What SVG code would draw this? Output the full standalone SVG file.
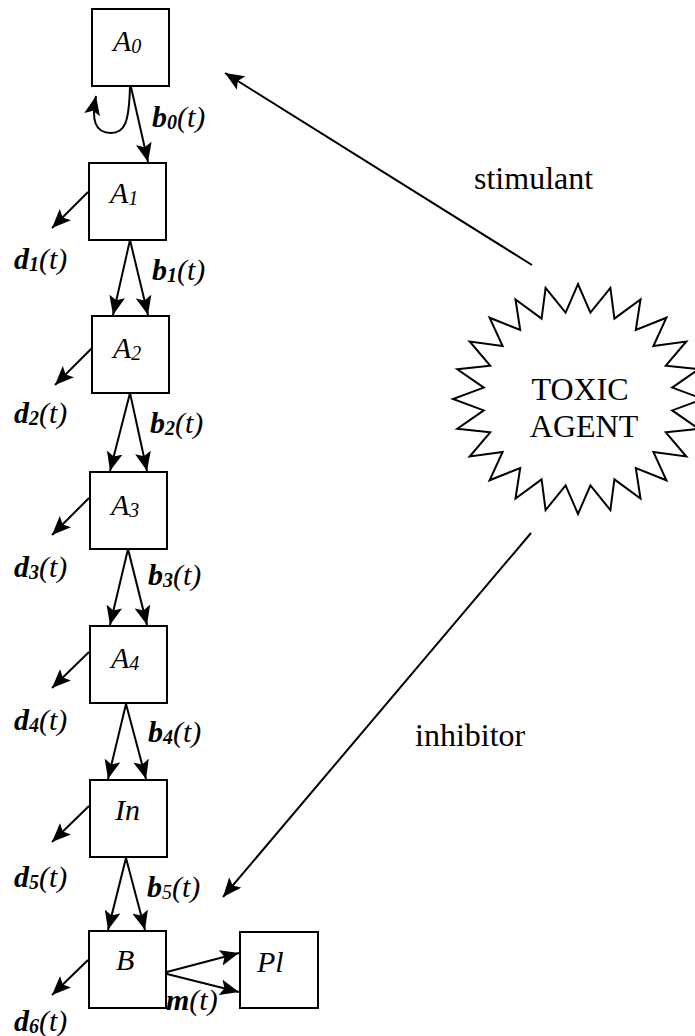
<svg xmlns="http://www.w3.org/2000/svg" width="695" height="1036" viewBox="0 0 695 1036">
<style>
.box{fill:#fff;stroke:#000;stroke-width:2}
.ln{fill:none;stroke:#000;stroke-width:2;marker-end:url(#ah)}
.t{font-family:"Liberation Serif","Times New Roman",serif;fill:#000}
.nl{font-size:30px;font-style:italic}
.sub{font-size:20px}
.lb{font-size:30px;font-style:italic}
.bi{font-weight:bold}
.big{font-size:32px}
</style>
<defs>
<marker id="ah" markerWidth="19" markerHeight="16" refX="19" refY="8" orient="auto" markerUnits="userSpaceOnUse" viewBox="0 0 19 16">
<path d="M0,0 L19,8 L0,16 L4,8 Z" fill="#000"/>
</marker>
</defs>
<rect width="695" height="1036" fill="#fff"/>

<g id="connectors">
<path class="ln" d="M130,87 C129,122 125,133 111,133 C95,133 91,120 96,96"/>
<line class="ln" x1="131" y1="87" x2="148" y2="162"/>
<line class="ln" x1="88" y1="192" x2="52" y2="228"/>
<line class="ln" x1="130" y1="240" x2="113" y2="315"/>
<line class="ln" x1="130" y1="240" x2="148" y2="315"/>
<line class="ln" x1="92" y1="348" x2="55" y2="385"/>
<line class="ln" x1="130" y1="393" x2="110" y2="471"/>
<line class="ln" x1="130" y1="393" x2="147" y2="471"/>
<line class="ln" x1="89" y1="498" x2="52" y2="535"/>
<line class="ln" x1="128" y1="549" x2="110" y2="625"/>
<line class="ln" x1="128" y1="549" x2="147" y2="625"/>
<line class="ln" x1="89" y1="652" x2="52" y2="688"/>
<line class="ln" x1="126" y1="704" x2="108" y2="779"/>
<line class="ln" x1="126" y1="704" x2="146" y2="779"/>
<line class="ln" x1="89" y1="806" x2="52" y2="842"/>
<line class="ln" x1="126" y1="858" x2="108" y2="930"/>
<line class="ln" x1="126" y1="858" x2="145" y2="930"/>
<line class="ln" x1="88" y1="960" x2="52" y2="995"/>
<line class="ln" x1="163" y1="973" x2="239" y2="953"/>
<line class="ln" x1="163" y1="973" x2="239" y2="992"/>
<line class="ln" x1="532" y1="265" x2="225" y2="73"/>
<line class="ln" x1="531" y1="533" x2="223" y2="897"/>
</g>

<g id="A0"><rect class="box" x="92" y="9" width="77" height="77"/><text class="t nl" x="113" y="51">A<tspan class="sub" dy="2">0</tspan></text></g>
<g id="A1"><rect class="box" x="89" y="163" width="77" height="77"/><text class="t nl" x="110" y="203">A<tspan class="sub" dy="2">1</tspan></text></g>
<g id="A2"><rect class="box" x="92" y="316" width="77" height="77"/><text class="t nl" x="113" y="358">A<tspan class="sub" dy="2">2</tspan></text></g>
<g id="A3"><rect class="box" x="90" y="472" width="77" height="77"/><text class="t nl" x="111" y="515">A<tspan class="sub" dy="2">3</tspan></text></g>
<g id="A4"><rect class="box" x="90" y="626" width="77" height="77"/><text class="t nl" x="111" y="668">A<tspan class="sub" dy="2">4</tspan></text></g>
<g id="In"><rect class="box" x="90" y="780" width="77" height="77"/><text class="t nl" x="115" y="820">In</text></g>
<g id="B"><rect class="box" x="89" y="931" width="77" height="77"/><text class="t nl" x="116" y="970">B</text></g>
<g id="Pl"><rect class="box" x="240" y="932" width="78" height="76"/><text class="t nl" x="257" y="972">Pl</text></g>

<g id="toxic-agent">
<polygon fill="#fff" stroke="#000" stroke-width="2" stroke-linejoin="miter" points="703,399 672.2,387.6 698.7,369.2 665.8,365.7 686.3,341.5 653.4,346 666.4,317.7 635.8,330 640.5,299.4 614.4,318.6 610.4,287.9 590.4,312.7 578,284 565.6,312.7 545.6,287.9 541.6,318.6 515.5,299.4 520.2,330 489.6,317.7 502.6,346 469.7,341.5 490.2,365.7 457.3,369.2 483.8,387.6 453,399 483.8,410.4 457.3,428.8 490.2,432.3 469.7,456.5 502.6,452 489.6,480.3 520.2,468 515.5,498.6 541.6,479.4 545.6,510.1 565.6,485.3 578,514 590.4,485.3 610.4,510.1 614.4,479.4 640.5,498.6 635.8,468 666.4,480.3 653.4,452 686.3,456.5 665.8,432.3 698.7,428.8 672.2,410.4"/>
<text class="t big" x="580" y="400" text-anchor="middle">TOXIC</text>
<text class="t big" x="584" y="437" text-anchor="middle">AGENT</text>
</g>

<g id="labels">
<text class="t lb" x="152" y="127"><tspan class="bi">b</tspan><tspan class="sub bi" dy="2">0</tspan><tspan dy="-2">(t)</tspan></text>
<text class="t lb" x="152" y="280"><tspan class="bi">b</tspan><tspan class="sub bi" dy="2">1</tspan><tspan dy="-2">(t)</tspan></text>
<text class="t lb" x="150" y="433"><tspan class="bi">b</tspan><tspan class="sub bi" dy="2">2</tspan><tspan dy="-2">(t)</tspan></text>
<text class="t lb" x="148" y="585"><tspan class="bi">b</tspan><tspan class="sub bi" dy="2">3</tspan><tspan dy="-2">(t)</tspan></text>
<text class="t lb" x="148" y="742"><tspan class="bi">b</tspan><tspan class="sub bi" dy="2">4</tspan><tspan dy="-2">(t)</tspan></text>
<text class="t lb" x="147" y="897"><tspan class="bi">b</tspan><tspan class="sub" dy="2">5</tspan><tspan dy="-2">(t)</tspan></text>
<text class="t lb" x="14" y="269"><tspan class="bi">d</tspan><tspan class="sub bi" dy="2">1</tspan><tspan dy="-2">(t)</tspan></text>
<text class="t lb" x="14" y="423"><tspan class="bi">d</tspan><tspan class="sub bi" dy="2">2</tspan><tspan dy="-2">(t)</tspan></text>
<text class="t lb" x="14" y="577"><tspan class="bi">d</tspan><tspan class="sub bi" dy="2">3</tspan><tspan dy="-2">(t)</tspan></text>
<text class="t lb" x="14" y="730"><tspan class="bi">d</tspan><tspan class="sub bi" dy="2">4</tspan><tspan dy="-2">(t)</tspan></text>
<text class="t lb" x="14" y="887"><tspan class="bi">d</tspan><tspan class="sub bi" dy="2">5</tspan><tspan dy="-2">(t)</tspan></text>
<text class="t lb" x="14" y="1031"><tspan class="bi">d</tspan><tspan class="sub bi" dy="2">6</tspan><tspan dy="-2">(t)</tspan></text>
<text class="t lb" x="166" y="1010"><tspan class="bi">m</tspan>(t)</text>
<text class="t big" x="474" y="189">stimulant</text>
<text class="t big" x="415" y="746">inhibitor</text>
</g>
</svg>
